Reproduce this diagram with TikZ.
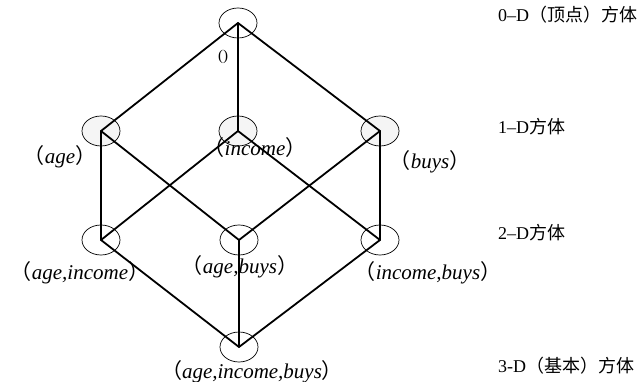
\documentclass[tikz,border=0pt]{standalone}
\usepackage{fontspec}
\setmainfont{Liberation Serif}
\newfontfamily\cjk{Noto Sans CJK SC}
\usetikzlibrary{shapes.geometric, positioning}
\tikzset{
	vtx/.style     ={ellipse, draw=black, line width=0.7pt, minimum width=38pt, minimum height=30pt, inner sep=0pt},
	vtxs/.style    ={vtx, fill=black!4},
	cubeline/.style={line width=1.8pt, line cap=round},
	lbl/.style     ={font=\fontsize{21}{24}\selectfont\itshape, inner sep=0pt},
	dimlbl/.style  ={font=\fontsize{18}{21}\selectfont, anchor=west, inner sep=0pt},
}
\newcommand{\lpar}{{\upshape\cjk （}}
\newcommand{\rpar}{{\upshape\cjk ）}}

\begin{document}
\begin{tikzpicture}[x=1pt, y=-1pt]
	\useasboundingbox (0,0) rectangle (642,382);
	% lattice vertices
	\node[vtx]  (apex) at (238,23) {};
	\node[vtxs] (a)    at (101,131) {};
	\node[vtxs] (i)    at (238,131) {};
	\node[vtxs] (b)    at (380,131) {};
	\node[vtx]  (ai)   at (101,240) {};
	\node[vtx]  (ab)   at (239,240) {};
	\node[vtx]  (ib)   at (380,240) {};
	\node[vtx]  (aib)  at (239,347) {};
	% cube edges
	\foreach \u/\v in {apex/a, apex/i, apex/b, a/ai, a/ab, i/ai, i/ib, b/ab, b/ib, ai/aib, ab/aib, ib/aib}
		\draw[cubeline] (\u.center) -- (\v.center);
	% cuboid labels
	\node[font=\fontsize{15}{17}\selectfont, inner sep=0pt] (l0) at (223,57) {()};
	\node[lbl] (la)   at (60,157)  {\lpar age\rpar};
	\node[lbl] (li)   at (255,148) {\lpar income\rpar};
	\node[lbl] (lb)   at (430,162) {\lpar buys\rpar};
	\node[lbl] (lai)  at (80,273)  {\lpar age,income\rpar};
	\node[lbl] (lab)  at (240,267) {\lpar age,buys\rpar};
	\node[lbl] (lib)  at (428,273) {\lpar income,buys\rpar};
	\node[lbl] (laib) at (252,372) {\lpar age,income,buys\rpar};
	% dimension labels
	\node[dimlbl] (d0) at (498,15)  {0–D{\cjk （顶点）方体}};
	\node[dimlbl] (d1) at (498,127) {1–D{\cjk 方体}};
	\node[dimlbl] (d2) at (498,233) {2–D{\cjk 方体}};
	\node[dimlbl] (d3) at (498,366) {3-D{\cjk （基本）方体}};
\end{tikzpicture}
\end{document}
